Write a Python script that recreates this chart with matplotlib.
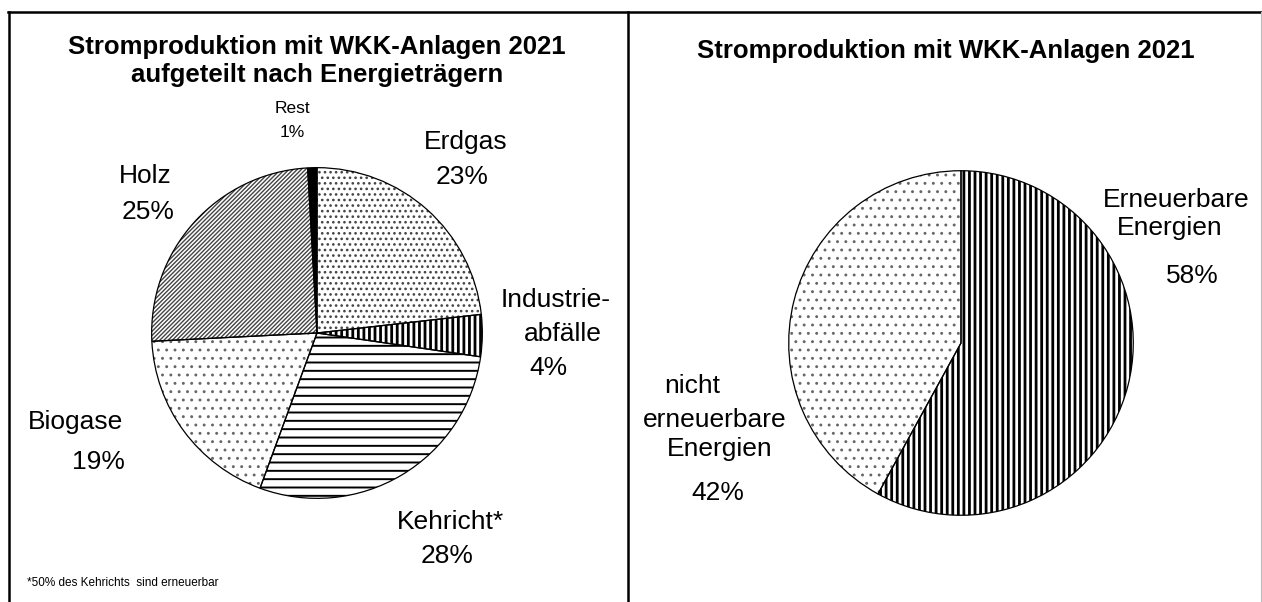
import matplotlib
matplotlib.use('Agg')
import matplotlib.pyplot as plt
from matplotlib.lines import Line2D

plt.rcParams['font.family'] = ['Liberation Sans', 'DejaVu Sans']

# Stromproduktion nach Energietraeger (Anteile in %)
carrier_names = ['Erdgas', 'Industrieabfälle', 'Kehricht', 'Biogase', 'Holz', 'Rest']
carrier_share = [23.2, 4.1, 28.3, 18.6, 24.9, 0.9]
carrier_pct = ['23%', '4%', '28%', '19%', '25%', '1%']

# erneuerbar / nicht erneuerbar
renew_names = ['Erneuerbare Energien', 'nicht erneuerbare Energien']
renew_share = [58, 42]
renew_pct = ['58%', '42%']

title_left = 'Stromproduktion mit WKK-Anlagen 2021\naufgeteilt nach Energieträgern'
title_right = 'Stromproduktion mit WKK-Anlagen 2021'
footnote = '*50% des Kehrichts  sind erneuerbar'

W, H = 1262, 602
fig = plt.figure(figsize=(W / 100, H / 100), dpi=100)


def px(x, y):
    return x / W, 1 - y / H


def pie_axes(cx, cy, r):
    return fig.add_axes([(cx - r) / W, 1 - (cy + r) / H, 2 * r / W, 2 * r / H])


def hatched_pie(ax, values, styles):
    # first pass: hatches (hatch colour = edgecolor), second pass: black outlines
    for i, (hatch, hcol, hlw, face) in enumerate(styles):
        with plt.rc_context({'hatch.linewidth': hlw}):
            wedges, _ = ax.pie(values, startangle=90, counterclock=False, radius=1,
                               wedgeprops=dict(facecolor='none', linewidth=0))
        for j, w in enumerate(wedges):
            if j == i:
                w.set_facecolor(face)
                w.set_edgecolor(hcol)
                w.set_hatch(hatch)
                if hasattr(w, 'set_hatch_linewidth'):
                    w.set_hatch_linewidth(hlw)
            else:
                w.set_visible(False)
    ax.pie(values, startangle=90, counterclock=False, radius=1,
           wedgeprops=dict(fill=False, edgecolor='black', linewidth=0.9))
    ax.set_xlim(-1.01, 1.01)
    ax.set_ylim(-1.01, 1.01)
    ax.axis('off')


# linker Kreis
ax1 = pie_axes(317, 333, 167)
left_styles = [
    ('...', '#444444', 1.1, 'white'),      # Erdgas
    ('|||', 'black', 2.0, 'white'),        # Industrieabfaelle
    ('--', 'black', 1.4, 'white'),         # Kehricht
    ('..', '#666666', 0.9, 'white'),       # Biogase
    ('////////', '#444444', 1.0, 'white'),  # Holz
    ('', 'black', 1.0, 'black'),           # Rest
]
hatched_pie(ax1, carrier_share, left_styles)

# rechter Kreis
ax2 = pie_axes(961, 343, 174)
right_styles = [
    ('|||', 'black', 2.0, 'white'),
    ('..', '#666666', 0.9, 'white'),
]
hatched_pie(ax2, renew_share, right_styles)

# Titel
fig.text(*px(317, 61), title_left, ha='center', va='center', fontsize=18.5,
         fontweight='bold', linespacing=1.2)
fig.text(*px(946, 51), title_right, ha='center', va='center', fontsize=18.5,
         fontweight='bold')

# Beschriftungen links
fs = 19
fig.text(*px(292, 108), 'Rest', ha='center', va='center', fontsize=12.5)
fig.text(*px(292, 133), carrier_pct[5], ha='center', va='center', fontsize=12.5)
fig.text(*px(466, 142), carrier_names[0], ha='center', va='center', fontsize=fs)
fig.text(*px(462, 177), carrier_pct[0], ha='center', va='center', fontsize=fs)
fig.text(*px(145, 176), carrier_names[4], ha='center', va='center', fontsize=fs)
fig.text(*px(148, 212), carrier_pct[4], ha='center', va='center', fontsize=fs)
fig.text(*px(556, 300), 'Industrie-', ha='center', va='center', fontsize=fs)
fig.text(*px(563, 334), 'abfälle', ha='center', va='center', fontsize=fs)
fig.text(*px(548, 368), carrier_pct[1], ha='center', va='center', fontsize=fs)
fig.text(*px(76, 422), carrier_names[3], ha='center', va='center', fontsize=fs)
fig.text(*px(98, 462), carrier_pct[3], ha='center', va='center', fontsize=fs)
fig.text(*px(450, 522), carrier_names[2] + '*', ha='center', va='center', fontsize=fs)
fig.text(*px(447, 556), carrier_pct[2], ha='center', va='center', fontsize=fs)
fig.text(*px(27, 583), footnote, ha='left', va='center', fontsize=8.5)

# Beschriftungen rechts
fig.text(*px(1176, 200), 'Erneuerbare', ha='center', va='center', fontsize=fs)
fig.text(*px(1170, 228), 'Energien', ha='center', va='center', fontsize=fs)
fig.text(*px(1192, 276), renew_pct[0], ha='center', va='center', fontsize=fs)
fig.text(*px(692, 386), 'nicht', ha='center', va='center', fontsize=fs)
fig.text(*px(715, 420), 'erneuerbare', ha='center', va='center', fontsize=fs)
fig.text(*px(720, 449), 'Energien', ha='center', va='center', fontsize=fs)
fig.text(*px(718, 493), renew_pct[1], ha='center', va='center', fontsize=fs)

# Rahmen
frame = [((8.5, 8.5), (11.5, 602), 'black', 1.8),
         ((8, 1262), (11.5, 11.5), 'black', 1.8),
         ((628, 628), (11.5, 602), 'black', 1.8),
         ((1261, 1261), (11.5, 602), '#bbbbbb', 0.8)]
for xs, ys, c, lw in frame:
    fig.add_artist(Line2D([x / W for x in xs], [1 - y / H for y in ys],
                          transform=fig.transFigure, color=c, linewidth=lw))

fig.savefig('out.png', dpi=100)
